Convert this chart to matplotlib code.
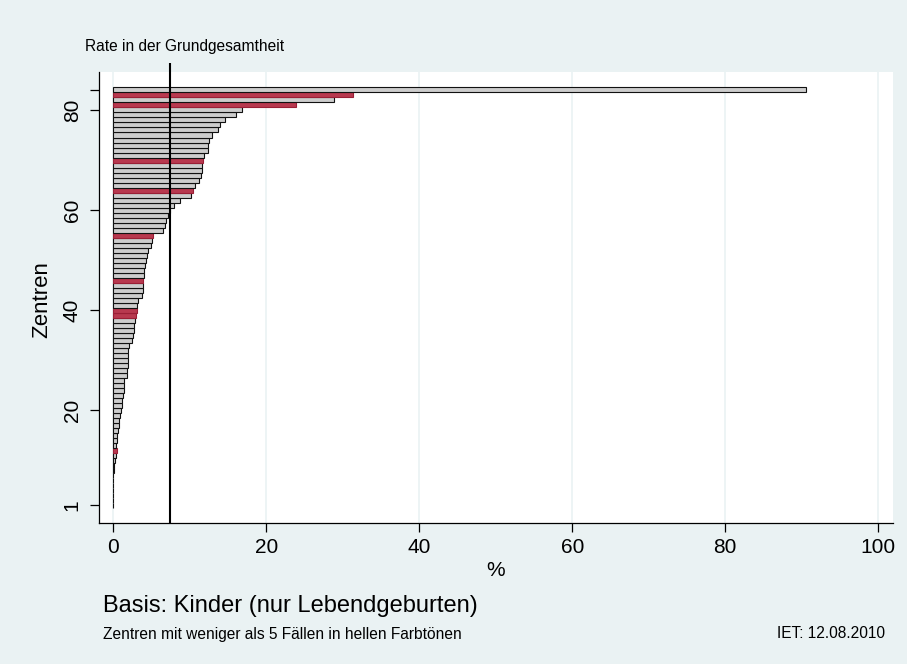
import matplotlib
matplotlib.use('Agg')
import matplotlib.pyplot as plt

# ---- data ----
centers = list(range(1, 85))
rates = [0, 0, 0, 0, 0, 0, 0, 0.06, 0.12, 0.20,
         0.30, 0.50, 0.38, 0.42, 0.48, 0.57, 0.68, 0.78, 0.90, 1.00,
         1.10, 1.20, 1.30, 1.38, 1.42, 1.45, 1.83, 1.85, 1.88, 1.90,
         1.92, 1.95, 2.01, 2.40, 2.58, 2.66, 2.75, 2.88, 3.01, 3.05,
         3.14, 3.23, 3.80, 3.84, 3.85, 3.93, 4.01, 4.06, 4.10, 4.23,
         4.36, 4.58, 4.88, 5.10, 5.23, 6.54, 6.80, 6.93, 7.19, 7.41,
         7.93, 8.76, 10.11, 10.37, 10.72, 11.24, 11.50, 11.59, 11.63, 11.72,
         11.89, 12.32, 12.37, 12.50, 12.93, 13.72, 13.98, 14.59, 16.03, 16.77,
         23.83, 28.84, 31.37, 90.55]
highlighted = [12, 39, 40, 46, 55, 64, 70, 81, 83]
pop_rate = 7.43
xticks = [0, 20, 40, 60, 80, 100]
yticks = [1, 20, 40, 60, 80, 84]
yticklabels = ['1', '20', '40', '60', '80', '']

BG = '#EAF2F3'
RED = '#B8394F'
RED_EDGE = '#9A1F36'
GRAY = '#CDCDCD'
FONT = ['Liberation Sans', 'DejaVu Sans']

plt.rcParams['font.family'] = FONT

W, H = 907, 664
fig = plt.figure(figsize=(W / 100, H / 100), dpi=100, facecolor=BG)

def fx(px):
    return px / W

def fy(py):
    return 1 - py / H

ax = fig.add_axes([fx(99), fy(523), fx(893.3) - fx(99), fy(72.3) - fy(523)])
ax.set_facecolor('white')

fills = [RED if c in highlighted else GRAY for c in centers]
edges = [RED_EDGE if c in highlighted else '#111111' for c in centers]
ax.barh(centers, rates, height=1.0, color=fills, edgecolor=edges,
        linewidth=0.8, zorder=3)

ax.set_xlim(-1.87, 101.96)
ax.set_ylim(-2.54, 87.53)

ax.set_xticks(xticks)
ax.set_xticklabels([str(t) for t in xticks])
ax.set_yticks(yticks)
ax.set_yticklabels(yticklabels, rotation=90, va='center')

ax.grid(axis='x', color=BG, linewidth=1.2, zorder=0)
ax.set_axisbelow(True)

for s in ['top', 'right']:
    ax.spines[s].set_visible(False)
for s in ['left', 'bottom']:
    ax.spines[s].set_linewidth(0.9)
    ax.spines[s].set_color('black')

ax.tick_params(axis='both', direction='out', length=6.5, width=0.9,
               colors='black', labelsize=15)
ax.tick_params(axis='x', pad=4)
ax.tick_params(axis='y', pad=6)

# population rate line, extending above plot region
ax.plot([pop_rate, pop_rate], [-2.54, 89.4], color='black', linewidth=1.5,
        clip_on=False, zorder=5, solid_capstyle='butt')

# texts
fig.text(fx(85), fy(47), 'Rate in der Grundgesamtheit', fontsize=11.2,
         ha='left', va='center')
fig.text(fx(42), fy(300), 'Zentren', fontsize=16, rotation=90,
         ha='center', va='center')
fig.text(fx(496), fy(570), '%', fontsize=15, ha='center', va='center')
fig.text(fx(103), fy(606), 'Basis: Kinder (nur Lebendgeburten)', fontsize=17,
         ha='left', va='center')
fig.text(fx(103), fy(634), 'Zentren mit weniger als 5 Fällen in hellen Farbtönen',
         fontsize=11.2, ha='left', va='center')
fig.text(fx(885), fy(634), 'IET: 12.08.2010', fontsize=11.2,
         ha='right', va='center')

fig.savefig('out.png', dpi=100, facecolor=BG)
